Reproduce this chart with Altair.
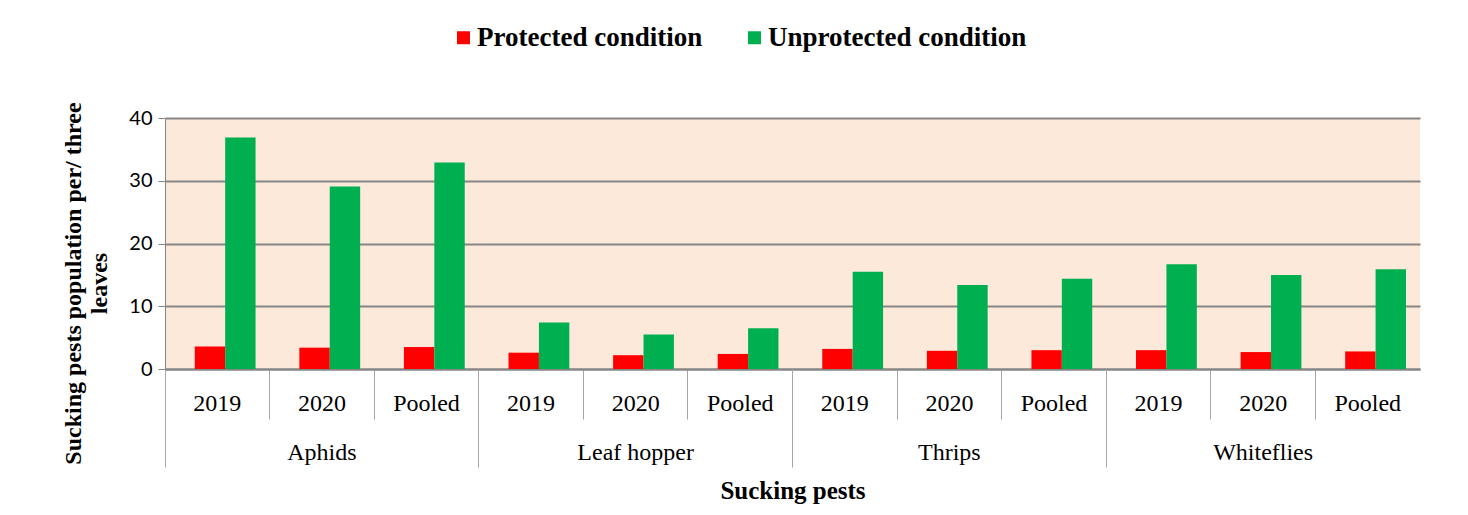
import altair as alt
import pandas as pd

pests = ["Aphids", "Leaf hopper", "Thrips", "Whiteflies"]
years = ["2019", "2020", "Pooled"]
conditions = ["Protected condition", "Unprotected condition"]
protected = [3.6, 3.4, 3.5, 2.6, 2.2, 2.4, 3.2, 2.9, 3.0, 3.0, 2.7, 2.8]
unprotected = [36.9, 29.1, 32.9, 7.4, 5.5, 6.5, 15.5, 13.4, 14.4, 16.7, 15.0, 15.9]
colors = ["#ff0000", "#00b050"]

rows = []
cats = []
i = 0
for p in pests:
    for y in years:
        c = p + "|" + y
        cats.append(c)
        rows.append({"cat": c, "pest": p, "year": y, "condition": conditions[0], "value": protected[i]})
        rows.append({"cat": c, "pest": p, "year": y, "condition": conditions[1], "value": unprotected[i]})
        i += 1
df = pd.DataFrame(rows)

serif = "Liberation Serif"
sans = "Lato"

yaxis = alt.Axis(
    title=["Sucking pests population per/ three", "leaves"],
    titleFont=serif, titleFontSize=24, titleFontWeight="bold", titleColor="black",
    titleX=-80, titleY=165, titleAngle=270, titleAlign="center", titleBaseline="bottom",
    labelFont=sans, labelFontSize=20, labelColor="black", labelPadding=6,
    values=[0, 10, 20, 30, 40], tickColor="#868686", tickSize=7,
    domainColor="#868686", gridColor="#868686", gridWidth=2,
)

bars = alt.Chart(df).mark_bar(stroke=None).encode(
    x=alt.X("cat:N", sort=cats,
            scale=alt.Scale(paddingInner=0, paddingOuter=0),
            axis=alt.Axis(title=None, orient="bottom",
                          labelExpr="split(datum.value, '|')[1]",
                          labelFont=serif, labelFontSize=24, labelColor="black",
                          labelAngle=0, labelPadding=-28,
                          bandPosition=0, tickSize=50, tickColor="#a6a6a6",
                          domainColor="#868686", domainWidth=2, grid=False)),
    xOffset=alt.XOffset("condition:N", sort=conditions,
                        scale=alt.Scale(paddingInner=0, paddingOuter=0.72, align=0.68)),
    y=alt.Y("value:Q", scale=alt.Scale(domain=[0, 40]), axis=yaxis),
    color=alt.Color("condition:N", sort=conditions,
                    scale=alt.Scale(domain=conditions, range=colors),
                    legend=alt.Legend(title=None, orient="none", direction="horizontal",
                                      legendX=285, legendY=-94,
                                      symbolType="square", symbolSize=169,
                                      symbolStrokeWidth=0, labelLimit=0,
                                      labelFont=serif, labelFontSize=27, labelFontWeight="bold",
                                      labelColor="black", labelOffset=0, columnPadding=38)),
)

groups = alt.Chart(df).mark_bar(opacity=0).encode(
    x=alt.X("pest:N", sort=pests,
            scale=alt.Scale(paddingInner=0, paddingOuter=0),
            axis=alt.Axis(title="Sucking pests", orient="bottom",
                          titleFont=serif, titleFontSize=25, titleFontWeight="bold",
                          titleColor="black", titlePadding=11,
                          labelFont=serif, labelFontSize=24, labelColor="black",
                          labelAngle=0, labelPadding=-27,
                          bandPosition=0, tickSize=98, tickColor="#a6a6a6",
                          domain=False, grid=False)),
    y=alt.Y("value:Q"),
)

chart = alt.layer(bars, groups).resolve_scale(x="independent").properties(
    width=1255, height=251,
    autosize=alt.AutoSizeParams(type="none"),
    padding={"left": 157, "top": 110, "right": 40, "bottom": 140},
    background="white",
).configure_view(
    fill="#fde9d9", stroke=None
)

chart.save("out.html", embed_options={"renderer": "svg", "actions": False})
